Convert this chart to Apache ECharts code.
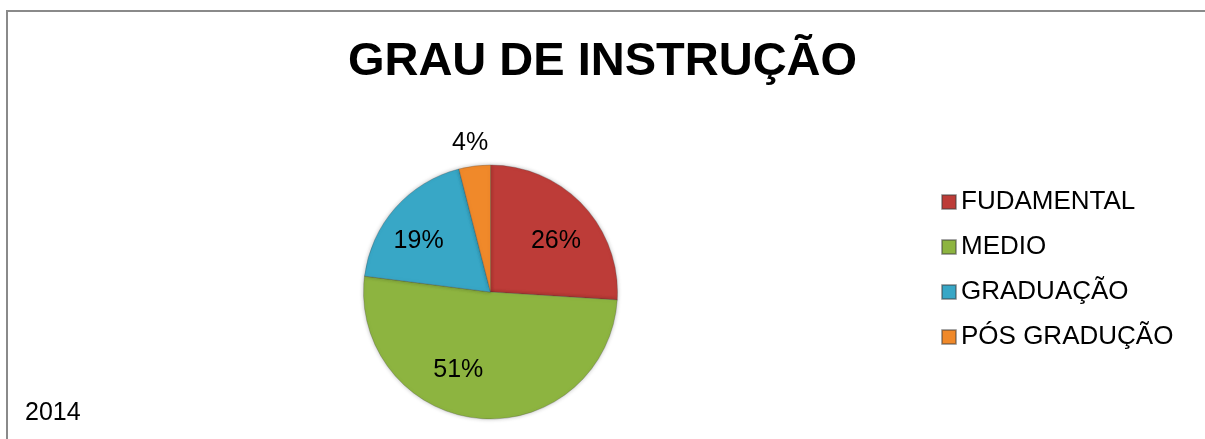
<!DOCTYPE html>
<html>
<head>
<meta charset="utf-8">
<script src="https://cdn.jsdelivr.net/npm/echarts@6/dist/echarts.min.js"></script>
<style>
  html, body { margin: 0; padding: 0; background: #fff; }
  #main { width: 1205px; height: 439px; }
</style>
</head>
<body>
<div id="main"></div>
<script>
// dados do gráfico
var categorias = ['FUDAMENTAL', 'MEDIO', 'GRADUAÇÃO', 'PÓS GRADUÇÃO'];
var valores = [26, 51, 19, 4];
var ano = '2014';

var cores = ['#bd3c38', '#8db440', '#38a7c6', '#f0892a'];
// ajuste fino da posição dos rótulos (estilo Excel)
var deslocRotulo = [[17, -5], [-26, 12], [-22, -7], [-12, -83]];

var mychart = echarts.init(document.getElementById('main'));

var dados = categorias.map(function (nome, i) {
    return {
        name: nome,
        value: valores[i],
        itemStyle: { color: cores[i] },
        label: { offset: deslocRotulo[i] }
    };
});

option = {
    backgroundColor: '#fff',
    title: {
        text: 'GRAU DE INSTRUÇÃO',
        left: 'center',
        top: 34,
        textStyle: {
            fontFamily: 'Liberation Sans, Arial, sans-serif',
            fontWeight: 'bold',
            fontSize: 47,
            color: '#000'
        }
    },
    legend: {
        orient: 'vertical',
        left: 936,
        top: 182,
        icon: 'rect',
        itemWidth: 14,
        itemHeight: 14,
        itemGap: 15,
        textStyle: {
            fontFamily: 'Liberation Sans, Arial, sans-serif',
            fontSize: 26,
            lineHeight: 30,
            color: '#000'
        },
        data: categorias
    },
    graphic: [
        {
            type: 'rect',
            shape: { x: 7, y: 11, width: 1210, height: 450 },
            style: { fill: 'none', stroke: '#8a8a8a', lineWidth: 2 },
            silent: true
        },
        {
            type: 'text',
            left: 25,
            top: 401,
            style: {
                text: ano,
                font: '25px "Liberation Sans", Arial, sans-serif',
                fill: '#000'
            }
        }
    ],
    series: [
        {
            type: 'pie',
            center: [490.5, 292],
            radius: [0, 127],
            startAngle: 90,
            clockwise: true,
            animation: false,
            itemStyle: {
                borderColor: 'rgba(60,60,60,0.45)',
                borderWidth: 0.6,
                shadowBlur: 4,
                shadowColor: 'rgba(0,0,0,0.25)'
            },
            label: {
                show: true,
                position: 'inside',
                formatter: '{c}%',
                fontFamily: 'Liberation Sans, Arial, sans-serif',
                fontSize: 25,
                color: '#000'
            },
            labelLine: { show: false },
            emphasis: { disabled: true },
            data: dados
        }
    ]
};
mychart.setOption(option);
</script>
</body>
</html>
